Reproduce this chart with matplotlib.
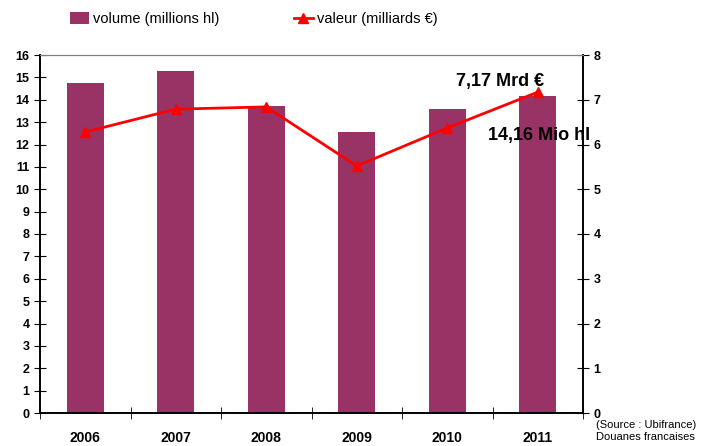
import matplotlib.pyplot as plt
import numpy as np

plt.rcParams['font.family'] = ['Liberation Sans', 'DejaVu Sans']

annees = ['2006', '2007', '2008', '2009', '2010', '2011']
volume = [14.73, 15.27, 13.70, 12.54, 13.57, 14.16]   # millions hl
valeur = [6.28, 6.79, 6.84, 5.52, 6.37, 7.17]         # milliards €

bordeaux = '#993366'
x = np.arange(len(annees))

fig = plt.figure(figsize=(7.04, 4.46), dpi=100)
ax = fig.add_axes([40/704, 33/446, 543/704, 358/446])
ax2 = ax.twinx()

barres = ax.bar(x, volume, width=0.41, color=bordeaux, zorder=2)
ligne, = ax2.plot(x, valeur, color='red', lw=2, marker='^', ms=7, zorder=3)

ax.set_xlim(-0.5, len(annees) - 0.5)
ax.set_ylim(0, 16)
ax2.set_ylim(0, 8)
ax.set_yticks(range(0, 17))
ax2.set_yticks(range(0, 9))

ax.set_xticks(x)
ax.set_xticklabels(annees, fontweight='bold', fontsize=10)
ax.set_xticks(np.arange(-0.5, len(annees)), minor=True)
ax.tick_params(axis='x', which='major', length=0, pad=13)
ax.tick_params(axis='x', which='minor', length=8, direction='inout')
ax.tick_params(axis='y', direction='inout', length=8, labelsize=9)
ax2.tick_params(axis='y', direction='inout', length=8, labelsize=9)
for lab in ax.get_yticklabels() + ax2.get_yticklabels():
    lab.set_fontweight('bold')

for a in (ax, ax2):
    a.spines['top'].set_color('#808080')
    a.spines['left'].set_linewidth(1.2)
    a.spines['right'].set_linewidth(1.2)
    a.spines['bottom'].set_linewidth(1.2)

ax2.annotate('7,17 Mrd €', (x[-1], valeur[-1]), xytext=(-59, 8), textcoords='offset points',
             ha='left', va='center', fontsize=13, fontweight='bold')
ax.annotate('14,16 Mio hl', (x[-1], volume[-1]), xytext=(-36, -28), textcoords='offset points',
            ha='left', va='center', fontsize=13, fontweight='bold')

fig.legend([barres], ['volume (millions hl)'], loc='center left',
           bbox_to_anchor=(70/704, 1 - 19/446), frameon=False, fontsize=10.5,
           handlelength=1.3, handleheight=0.85, handletextpad=0.3,
           borderpad=0, borderaxespad=0)
fig.legend([ligne], ['valeur (milliards €)'], loc='center left',
           bbox_to_anchor=(294/704, 1 - 19/446), frameon=False, fontsize=10.5,
           handlelength=1.3, handletextpad=0.3, borderpad=0, borderaxespad=0)

fig.text(596/704, 15/446, '(Source : Ubifrance)\nDouanes francaises', fontsize=8,
         ha='left', va='center', linespacing=1.15)

fig.savefig('out.png', dpi=100)
